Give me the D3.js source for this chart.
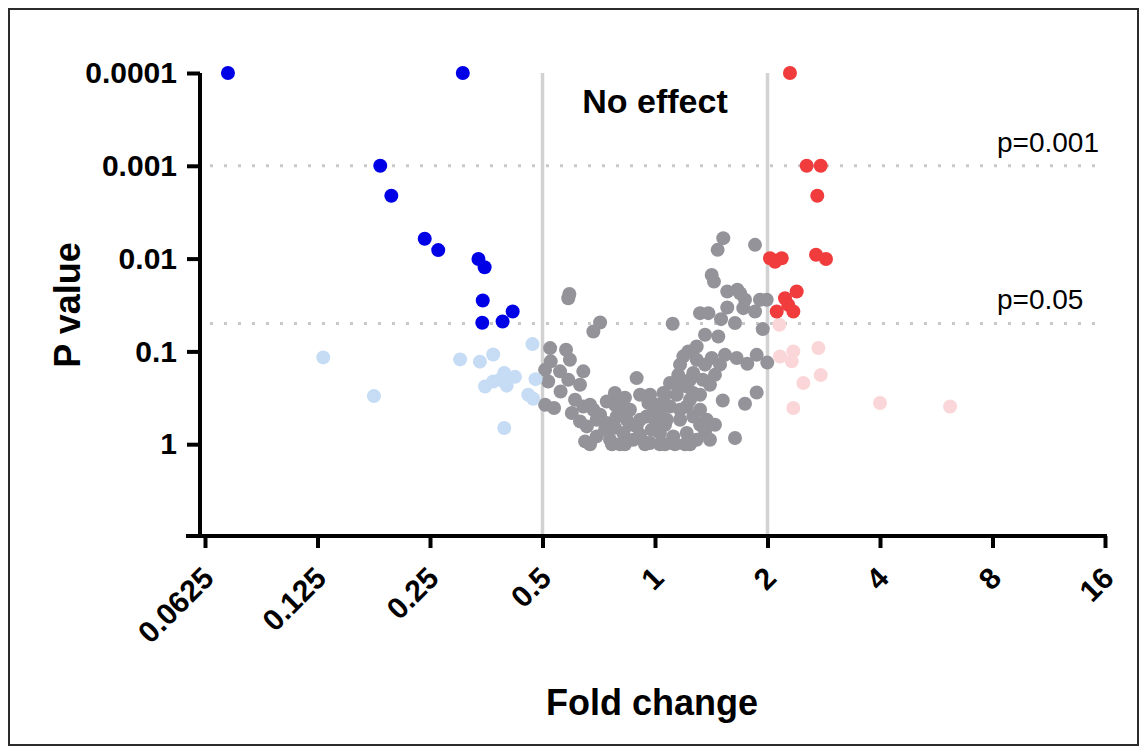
<!DOCTYPE html>
<html>
<head>
<meta charset="utf-8">
<script src="https://cdn.jsdelivr.net/npm/d3@7"></script>
<style>
  body { margin: 0; background: #fff; }
  svg { display: block; }
  text { font-family: "Liberation Sans", Arial, Helvetica, sans-serif; fill: #000; }
</style>
</head>
<body>
<svg id="chart" width="1147" height="754"></svg>
<script>
// Volcano plot: fold change (log2 axis) against P value (log10 axis, small p at top)

// Axis ticks
const xTicks = [0.0625, 0.125, 0.25, 0.5, 1, 2, 4, 8, 16];
const xTickLabels = ["0.0625", "0.125", "0.25", "0.5", "1", "2", "4", "8", "16"];
const yTicks = [0.0001, 0.001, 0.01, 0.1, 1];
const yTickLabels = ["0.0001", "0.001", "0.01", "0.1", "1"];

// Cut-offs
const foldCutoffs = [0.5, 2];
const pCutoffs = [0.001, 0.05];
const pCutoffLabels = ["p=0.001", "p=0.05"];

// [fold change, P value]
// Down-regulated, p < 0.05
const downSignificant = [
  [0.072, 0.0001], [0.306, 0.0001], [0.184, 0.001], [0.197, 0.0021], [0.242, 0.0061],
  [0.263, 0.0081], [0.337, 0.0101], [0.350, 0.0124], [0.346, 0.0283], [0.345, 0.0492],
  [0.391, 0.0476], [0.416, 0.0372]
];
// Down-regulated, not significant
const downNotSignificant = [
  [0.1295, 0.116], [0.177, 0.303], [0.301, 0.122], [0.340, 0.129], [0.369, 0.108],
  [0.470, 0.0834], [0.395, 0.171], [0.422, 0.188], [0.385, 0.202], [0.369, 0.211],
  [0.351, 0.239], [0.401, 0.234], [0.479, 0.199], [0.458, 0.293], [0.472, 0.324],
  [0.395, 0.670]
];
// Up-regulated, p < 0.05
const upSignificant = [
  [2.297, 0.0001], [2.546, 0.001], [2.776, 0.001], [2.718, 0.0021], [2.697, 0.0091],
  [2.868, 0.0101], [2.031, 0.0099], [2.095, 0.0108], [2.183, 0.0099], [2.394, 0.0226],
  [2.228, 0.0267], [2.117, 0.0372], [2.345, 0.0372], [2.273, 0.0315]
];
// Up-regulated, not significant
const upNotSignificant = [
  [2.151, 0.0517], [2.160, 0.1135], [2.345, 0.100], [2.322, 0.128], [2.736, 0.092],
  [2.494, 0.219], [2.776, 0.180], [2.345, 0.408], [4.0, 0.36], [6.16, 0.392]
];
// Within 0.5x - 2x
const noEffect = [
  [0.590, 0.0240], [0.586, 0.0267], [0.713, 0.0488], [0.684, 0.0610], [0.524, 0.0921],
  [0.578, 0.0961], [0.526, 0.128], [0.592, 0.123], [0.508, 0.158], [0.557, 0.164],
  [0.643, 0.164], [0.518, 0.211], [0.586, 0.202], [0.630, 0.229], [0.559, 0.270],
  [0.893, 0.194], [0.508, 0.376], [0.537, 0.408], [0.611, 0.332], [0.599, 0.461],
  [0.643, 0.392], [0.684, 0.425], [0.781, 0.281], [0.743, 0.346], [0.806, 0.360],
  [0.912, 0.293], [0.960, 0.360], [0.630, 0.568], [0.657, 0.643], [0.698, 0.545],
  [0.743, 0.591], [0.790, 0.502], [0.840, 0.545], [0.893, 0.643], [0.950, 0.502],
  [0.650, 0.933], [0.698, 0.824], [0.758, 0.895], [0.823, 0.757], [0.875, 0.895],
  [0.950, 0.971], [1.000, 0.698], [0.806, 0.461],
  [1.523, 0.00602], [1.471, 0.00805], [1.852, 0.00711], [1.418, 0.0150], [1.438, 0.0177],
  [1.561, 0.0226], [1.661, 0.0217], [1.741, 0.0278], [1.909, 0.0278], [1.990, 0.0278],
  [1.561, 0.0337], [1.723, 0.0342], [1.852, 0.0372], [1.320, 0.0387], [1.389, 0.0387],
  [1.502, 0.0449], [1.637, 0.0495], [1.942, 0.0575], [1.115, 0.0504], [1.361, 0.0662],
  [1.477, 0.0691], [1.293, 0.0885], [1.228, 0.100], [1.191, 0.113], [1.418, 0.118],
  [1.654, 0.118], [1.766, 0.136], [1.871, 0.109], [1.997, 0.132], [1.167, 0.139],
  [1.293, 0.123], [1.154, 0.179], [1.266, 0.171], [1.342, 0.202], [1.097, 0.219],
  [1.216, 0.239], [1.871, 0.277], [1.518, 0.338], [1.741, 0.366], [1.053, 0.281],
  [1.143, 0.293], [1.266, 0.281], [1.011, 0.376], [1.097, 0.392], [1.216, 0.392],
  [1.320, 0.425], [1.375, 0.545], [1.266, 0.502], [1.167, 0.545], [1.075, 0.545],
  [1.000, 0.545], [1.031, 0.757], [1.119, 0.824], [1.216, 0.757], [1.293, 0.895],
  [0.970, 0.971], [1.637, 0.857], [0.980, 0.698], [1.689, 0.0236],
  [0.735, 0.698], [0.781, 0.664], [0.831, 1.0], [0.912, 0.790], [1.031, 1.0],
  [1.064, 0.617], [1.131, 1.0], [1.241, 1.0], [1.361, 0.733], [1.403, 0.895],
  [1.320, 0.617], [1.447, 0.617], [0.857, 0.425], [0.912, 0.545], [1.031, 0.481],
  [1.167, 0.425], [1.241, 0.332], [1.320, 0.293], [1.403, 0.229], [1.447, 0.179],
  [1.493, 0.139], [1.539, 0.109], [1.361, 0.139], [1.241, 0.202], [1.152, 0.229],
  [1.064, 0.293], [0.970, 0.293], [0.767, 1.0], [0.670, 1.0], [0.940, 1.0],
  [1.203, 1.0], [0.806, 1.0], [1.064, 1.0], [0.670, 0.376], [0.713, 0.481],
  [0.781, 0.376], [0.831, 0.316], [0.857, 0.617], [1.000, 0.425], [1.044, 0.376]
];

const groups = [
  { data: noEffect, color: "#939399" },
  { data: downNotSignificant, color: "#c6dcf4" },
  { data: upNotSignificant, color: "#fbd6d8" },
  { data: downSignificant, color: "#0000e6" },
  { data: upSignificant, color: "#f03c3c" }
];

const svg = d3.select("#chart");
const W = 1147, H = 754;

// Outer frame
svg.append("rect")
  .attr("x", 9).attr("y", 9)
  .attr("width", W - 18).attr("height", H - 18)
  .attr("fill", "none").attr("stroke", "#2b2b2b").attr("stroke-width", 2);

const x = d3.scaleLog().base(2).domain([0.0625, 16]).range([205, 1105]);
const y = d3.scaleLog().base(10).domain([0.0001, 10]).range([73, 537]);

const yAxisX = x.range()[0] - 5;
const xAxisY = y.range()[1] - 1;

// Fold-change cut-off lines
svg.append("g").selectAll("line")
  .data(foldCutoffs).join("line")
  .attr("x1", d => x(d)).attr("x2", d => x(d))
  .attr("y1", y(0.0001)).attr("y2", xAxisY)
  .attr("stroke", "#d2d2d2").attr("stroke-width", 3.5);

// P-value cut-off lines
svg.append("g").selectAll("line")
  .data(pCutoffs).join("line")
  .attr("x1", x.range()[0] + 5).attr("x2", x.range()[1])
  .attr("y1", d => y(d)).attr("y2", d => y(d))
  .attr("stroke", "#c9c9c9").attr("stroke-width", 3)
  .attr("stroke-dasharray", "3 11");

svg.append("g").selectAll("text")
  .data(pCutoffs).join("text")
  .attr("x", 997)
  .attr("y", d => y(d) - 14)
  .attr("font-size", 28)
  .text((d, i) => pCutoffLabels[i]);

// Points
groups.forEach(g => {
  svg.append("g").selectAll("circle")
    .data(g.data).join("circle")
    .attr("cx", d => x(d[0]))
    .attr("cy", d => y(d[1]))
    .attr("r", 7)
    .attr("fill", g.color);
});

// Axes
const yAxis = svg.append("g")
  .attr("transform", `translate(${yAxisX},0)`)
  .call(d3.axisLeft(y)
    .tickValues(yTicks)
    .tickFormat((d, i) => yTickLabels[i])
    .tickSize(13).tickSizeOuter(0).tickPadding(10));

const xAxis = svg.append("g")
  .attr("transform", `translate(0,${xAxisY})`)
  .call(d3.axisBottom(x)
    .tickValues(xTicks)
    .tickFormat((d, i) => xTickLabels[i])
    .tickSize(12).tickSizeOuter(0));

xAxis.select(".domain").attr("d", `M${yAxisX - 14},0H${x.range()[1] + 2}`);
yAxis.select(".domain").attr("d", `M0,${y.range()[0]}V${xAxisY + 2}`);

[xAxis, yAxis].forEach(a => {
  a.selectAll(".domain, .tick line").attr("stroke", "#000").attr("stroke-width", 4);
  a.selectAll("text").attr("font-size", 30).attr("font-weight", "bold")
    .attr("font-family", '"Liberation Sans", Arial, sans-serif').attr("fill", "#000");
});

xAxis.selectAll(".tick text")
  .attr("x", 0).attr("y", 0).attr("dy", 0)
  .attr("text-anchor", "end")
  .attr("transform", "translate(10,44) rotate(-45)");

// Titles
svg.append("text")
  .attr("transform", `translate(80,305) rotate(-90)`)
  .attr("text-anchor", "middle")
  .attr("font-size", 36).attr("font-weight", "bold")
  .text("P value");

svg.append("text")
  .attr("x", 652).attr("y", 715)
  .attr("text-anchor", "middle")
  .attr("font-size", 36).attr("font-weight", "bold")
  .text("Fold change");

svg.append("text")
  .attr("x", (x(foldCutoffs[0]) + x(foldCutoffs[1])) / 2).attr("y", 113)
  .attr("text-anchor", "middle")
  .attr("font-size", 34).attr("font-weight", "bold")
  .text("No effect");
</script>
</body>
</html>
